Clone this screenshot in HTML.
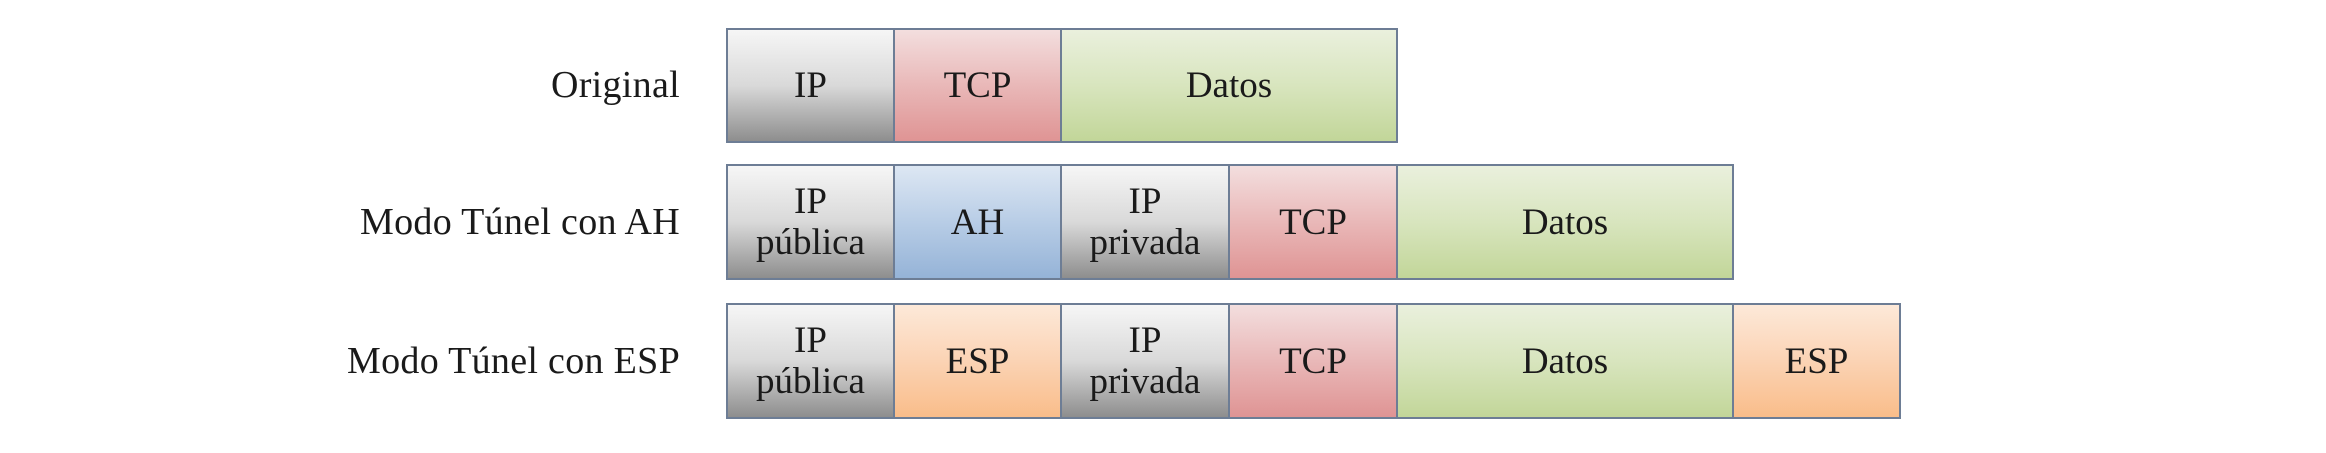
<!DOCTYPE html>
<html><head><meta charset="utf-8"><style>
html,body{margin:0;padding:0;background:#fff;}
body{width:2326px;height:453px;position:relative;overflow:hidden;font-family:"Liberation Serif",serif;color:#1a1a1a;}
.lab{position:absolute;right:1646px;font-size:38px;letter-spacing:0.3px;white-space:nowrap;line-height:40px;}
.c{position:absolute;box-sizing:border-box;border:2px solid #6d7d95;display:flex;align-items:center;justify-content:center;text-align:center;font-size:37px;line-height:41px;}
.g{background:linear-gradient(#f6f6f6,#d9d9d9 50%,#8e8e8e);}
.p{background:linear-gradient(#f3dede,#e9b8b8 50%,#df9494);}
.gr{background:linear-gradient(#eaf0dd,#d8e5be 50%,#c2d699);}
.b{background:linear-gradient(#dde7f3,#b8cde6 50%,#95b3d7);}
.o{background:linear-gradient(#fde9d9,#fbd3b4 50%,#f9bd8a);}
</style></head><body>
<div class="lab" style="top:65px">Original</div>
<div class="lab" style="top:202px">Modo Túnel con AH</div>
<div class="lab" style="top:341px">Modo Túnel con ESP</div>

<div class="c g" style="left:726px;top:28px;width:169px;height:115px">IP</div>
<div class="c p" style="left:893px;top:28px;width:169px;height:115px">TCP</div>
<div class="c gr" style="left:1060px;top:28px;width:338px;height:115px">Datos</div>

<div class="c g" style="left:726px;top:164px;width:169px;height:116px">IP<br>pública</div>
<div class="c b" style="left:893px;top:164px;width:169px;height:116px">AH</div>
<div class="c g" style="left:1060px;top:164px;width:170px;height:116px">IP<br>privada</div>
<div class="c p" style="left:1228px;top:164px;width:170px;height:116px">TCP</div>
<div class="c gr" style="left:1396px;top:164px;width:338px;height:116px">Datos</div>

<div class="c g" style="left:726px;top:303px;width:169px;height:116px">IP<br>pública</div>
<div class="c o" style="left:893px;top:303px;width:169px;height:116px">ESP</div>
<div class="c g" style="left:1060px;top:303px;width:170px;height:116px">IP<br>privada</div>
<div class="c p" style="left:1228px;top:303px;width:170px;height:116px">TCP</div>
<div class="c gr" style="left:1396px;top:303px;width:338px;height:116px">Datos</div>
<div class="c o" style="left:1732px;top:303px;width:169px;height:116px">ESP</div>
</body></html>
